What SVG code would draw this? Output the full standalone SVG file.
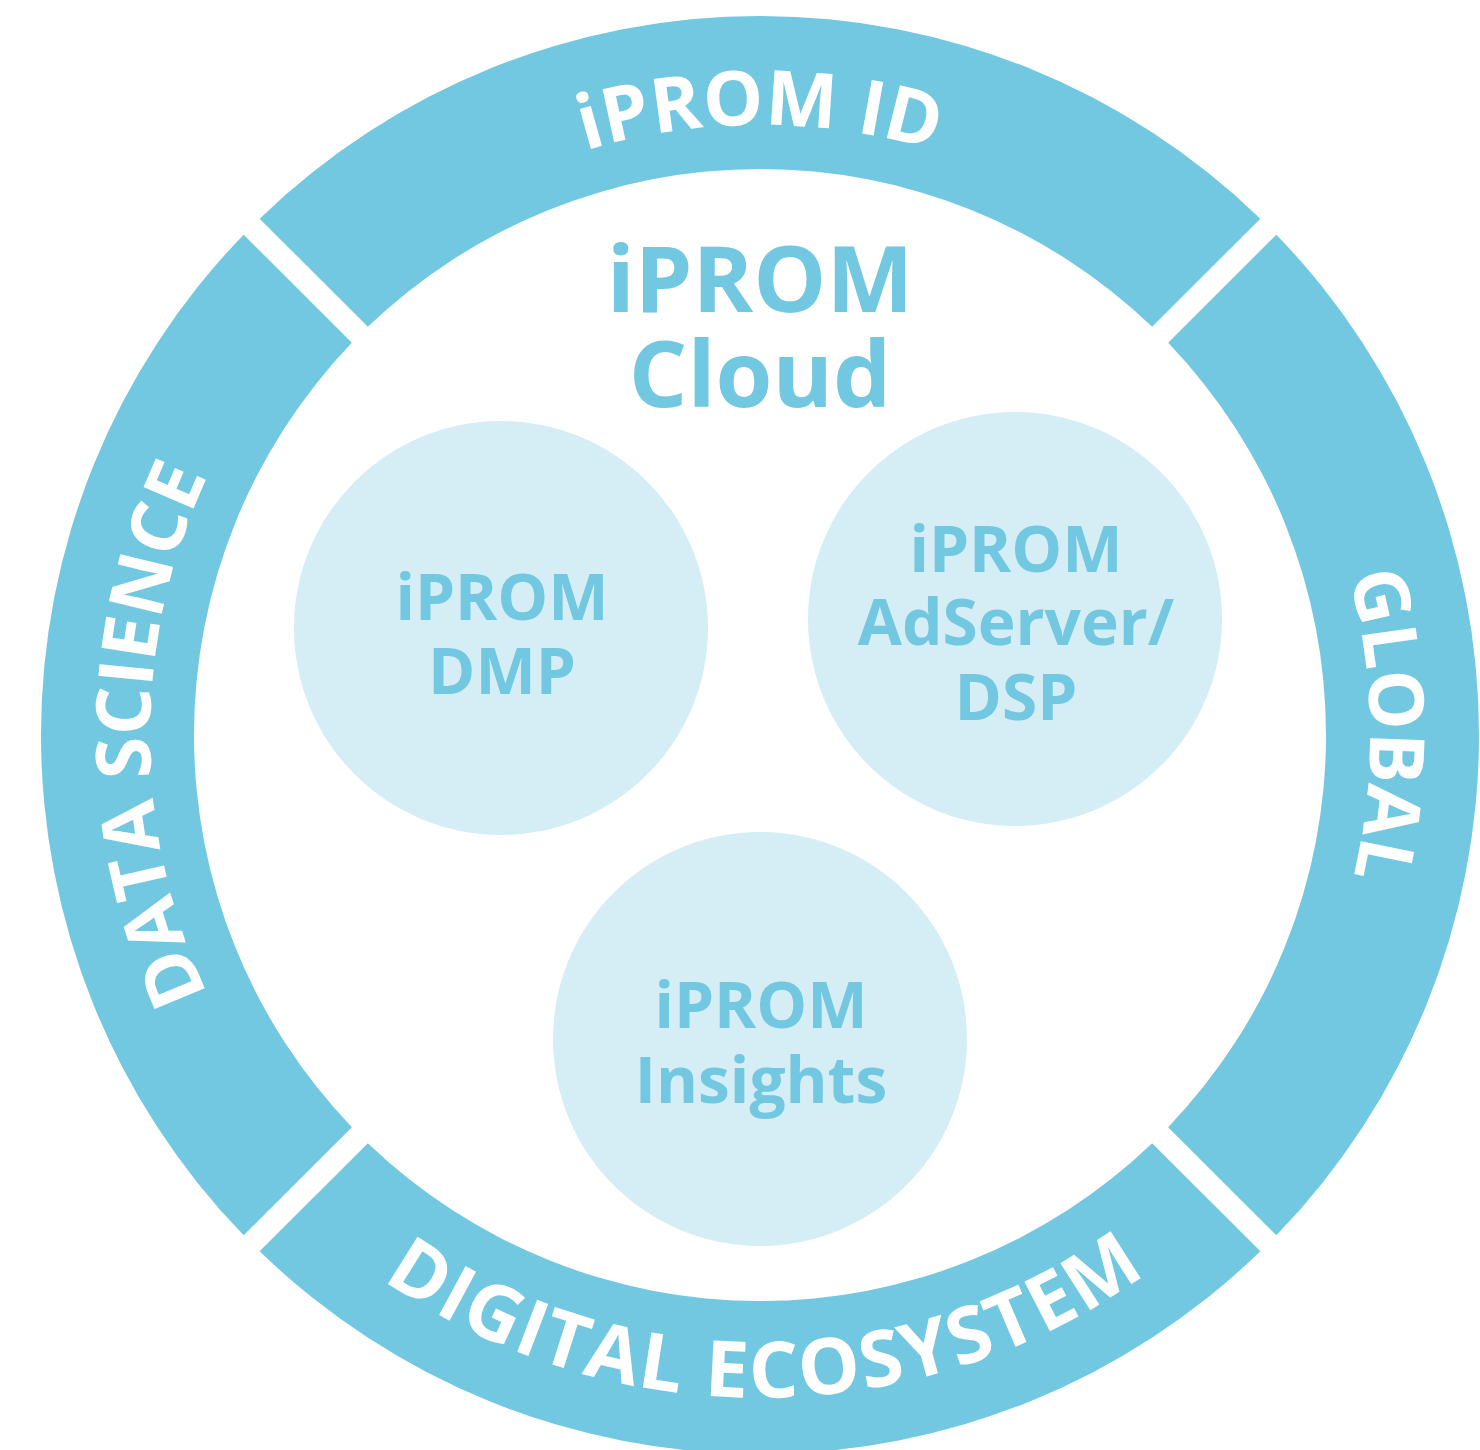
<svg xmlns="http://www.w3.org/2000/svg" width="1480" height="1450" viewBox="0 0 1480 1450">
  <defs>
    <style>
      .ring { fill: #72C8E0; }
      .ringtext { fill: #FFFFFF; font-family: "Open Sans", "Liberation Sans", sans-serif; font-weight: 700; font-size: 76px; }
      .ringtext-bottom { fill: #FFFFFF; font-family: "Open Sans", "Liberation Sans", sans-serif; font-weight: 700; font-size: 78px; letter-spacing: 2px; }
      .bubble { fill: #D5EDF5; }
      .title { fill: #72C8E0; font-family: "Open Sans", "Liberation Sans", sans-serif; font-weight: 700; font-size: 92px; text-anchor: middle; }
      .label { fill: #72C8E0; font-family: "Open Sans", "Liberation Sans", sans-serif; font-weight: 700; font-size: 64px; text-anchor: middle; }
    </style>
    <path id="arcTop" d="M 150,735 A 610 610 0 0 1 1370,735"/>
    <path id="arcRight" d="M 760,125 A 610 610 0 0 1 760,1345"/>
    <path id="arcLeft" d="M 760,1345 A 610 610 0 0 1 760,125"/>
    <path id="arcBottom" d="M 97,735 A 663 663 0 0 0 1423,735"/>
  </defs>
  <rect width="1480" height="1450" fill="#FFFFFF"/>

  <g id="ring-iprom-id">
    <path class="ring" d="M 259.65,218.65 A 719 719 0 0 1 1260.35,218.65 L 1152.14,326.86 A 566 566 0 0 0 367.86,326.86 Z"/>
    <text class="ringtext"><textPath href="#arcTop" startOffset="50%" text-anchor="middle">iPROM ID</textPath></text>
  </g>
  <g id="ring-global">
    <path class="ring" d="M 1276.35,234.65 A 719 719 0 0 1 1276.35,1235.35 L 1168.14,1127.14 A 566 566 0 0 0 1168.14,342.86 Z"/>
    <text class="ringtext"><textPath href="#arcRight" startOffset="49.5%" text-anchor="middle">GLOBAL</textPath></text>
  </g>
  <g id="ring-digital-ecosystem">
    <path class="ring" d="M 1260.35,1251.35 A 719 719 0 0 1 259.65,1251.35 L 367.86,1143.14 A 566 566 0 0 0 1152.14,1143.14 Z"/>
    <text class="ringtext-bottom"><textPath href="#arcBottom" startOffset="50.3%" text-anchor="middle">DIGITAL ECOSYSTEM</textPath></text>
  </g>
  <g id="ring-data-science">
    <path class="ring" d="M 243.65,1235.35 A 719 719 0 0 1 243.65,234.65 L 351.86,342.86 A 566 566 0 0 0 351.86,1127.14 Z"/>
    <text class="ringtext"><textPath href="#arcLeft" startOffset="50%" text-anchor="middle">DATA SCIENCE</textPath></text>
  </g>

  <g id="cloud-title">
    <text class="title" x="760" y="312">iPROM</text>
    <text class="title" x="760" y="407">Cloud</text>
  </g>

  <g id="node-dmp">
    <circle class="bubble" cx="501" cy="628" r="207"/>
    <text class="label" x="502" y="620">iPROM</text>
    <text class="label" x="502" y="694">DMP</text>
  </g>
  <g id="node-adserver">
    <circle class="bubble" cx="1015" cy="619" r="207"/>
    <text class="label" x="1016" y="572">iPROM</text>
    <text class="label" x="1016" y="645">AdServer/</text>
    <text class="label" x="1016" y="720">DSP</text>
  </g>
  <g id="node-insights">
    <circle class="bubble" cx="760" cy="1039" r="207"/>
    <text class="label" x="761" y="1028">iPROM</text>
    <text class="label" x="761" y="1103">Insights</text>
  </g>
</svg>
